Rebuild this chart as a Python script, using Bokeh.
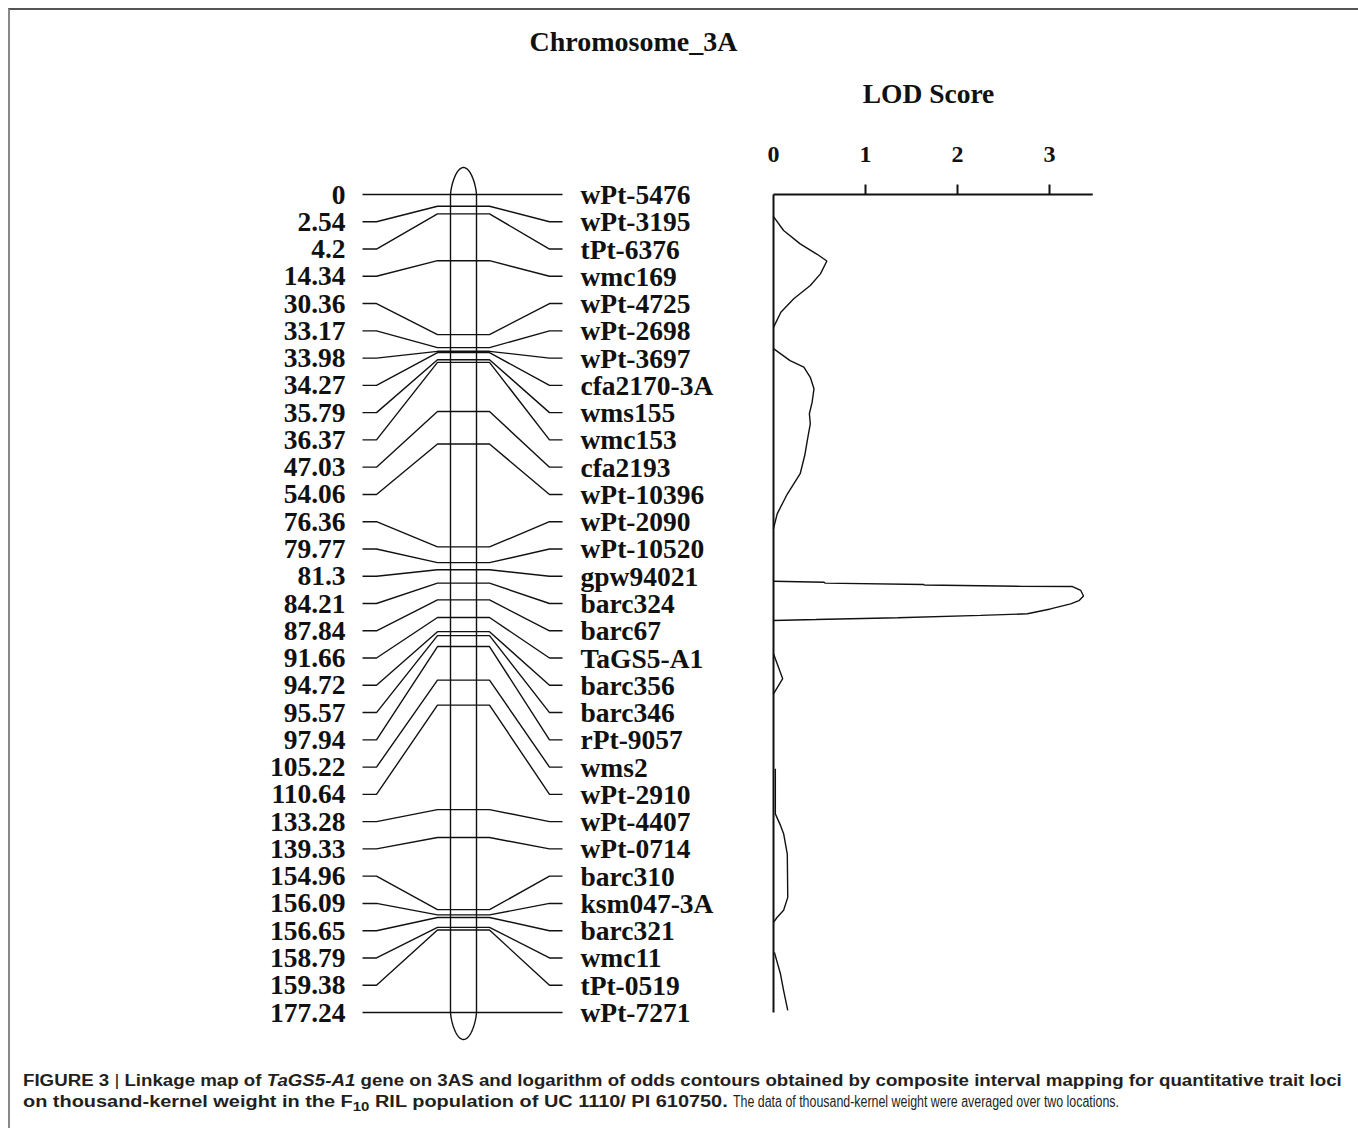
import math
from bokeh.plotting import figure
from bokeh.models import Range1d, Div
from bokeh.layouts import column
from bokeh.core.properties import value
from bokeh.embed import file_html
from bokeh.resources import INLINE

# ---------------- data ----------------
chrom_title = "Chromosome_3A"
lod_title = "LOD Score"

marker_pos = [0, 2.54, 4.2, 14.34, 30.36, 33.17, 33.98, 34.27, 35.79, 36.37,
              47.03, 54.06, 76.36, 79.77, 81.3, 84.21, 87.84, 91.66, 94.72, 95.57,
              97.94, 105.22, 110.64, 133.28, 139.33, 154.96, 156.09, 156.65, 158.79,
              159.38, 177.24]
pos_labels = ["0", "2.54", "4.2", "14.34", "30.36", "33.17", "33.98", "34.27", "35.79",
              "36.37", "47.03", "54.06", "76.36", "79.77", "81.3", "84.21", "87.84",
              "91.66", "94.72", "95.57", "97.94", "105.22", "110.64", "133.28", "139.33",
              "154.96", "156.09", "156.65", "158.79", "159.38", "177.24"]
marker_names = ["wPt-5476", "wPt-3195", "tPt-6376", "wmc169", "wPt-4725", "wPt-2698",
                "wPt-3697", "cfa2170-3A", "wms155", "wmc153", "cfa2193", "wPt-10396",
                "wPt-2090", "wPt-10520", "gpw94021", "barc324", "barc67", "TaGS5-A1",
                "barc356", "barc346", "rPt-9057", "wms2", "wPt-2910", "wPt-4407",
                "wPt-0714", "barc310", "ksm047-3A", "barc321", "wmc11", "tPt-0519",
                "wPt-7271"]

lod_ticks = [0, 1, 2, 3]
lod_axis_max = 3.47

# LOD profile, segments (position in cM, LOD)
lod_cm_1 = [4.8, 7.8, 10.7, 12.9, 14.4, 17.2, 19.7, 22.6, 25.5, 28.8]
lod_val_1 = [0.0, 0.11, 0.29, 0.47, 0.58, 0.51, 0.40, 0.22, 0.08, 0.0]
lod_cm_2 = [33.4, 36.0, 37.4, 39.6, 42.1, 45.0, 47.5, 49.7, 53.0, 56.5, 60.5, 64.9, 69.2, 72.4]
lod_val_2 = [0.0, 0.18, 0.33, 0.40, 0.44, 0.42, 0.39, 0.40, 0.37, 0.34, 0.29, 0.15, 0.04, 0.0]
lod_cm_3 = [83.8, 84.0, 84.2, 84.5, 84.6, 84.9, 84.95, 85.8, 87.0, 88.0, 88.7, 89.8,
            90.85, 91.2, 91.7, 92.1, 92.3]
lod_val_3 = [0.0, 0.55, 0.56, 1.63, 1.64, 2.70, 3.25, 3.34, 3.37, 3.32, 3.23, 3.01,
             2.76, 2.25, 1.35, 0.46, 0.0]
lod_cm_4 = [99.5, 104.9, 108.2]
lod_val_4 = [0.0, 0.10, 0.0]
lod_cm_5 = [124.4, 134.2, 136.7, 138.5, 142.9, 152.3, 155.1, 156.6, 157.7]
lod_val_5 = [0.02, 0.02, 0.076, 0.11, 0.15, 0.155, 0.11, 0.04, 0.0]
lod_cm_6 = [164.2, 168.9, 172.5, 176.8]
lod_val_6 = [0.01, 0.076, 0.11, 0.155]

lod_segments = [(lod_cm_1, lod_val_1), (lod_cm_2, lod_val_2), (lod_cm_3, lod_val_3),
                (lod_cm_4, lod_val_4), (lod_cm_5, lod_val_5), (lod_cm_6, lod_val_6)]

# ---------------- layout (page pixels) ----------------
FIG_LEFT, FIG_TOP = 10, 10
W, H = 1343, 1050
MAP_TOP_PX, MAP_BOT_PX = 194, 1012
total = marker_pos[-1]
S = (MAP_BOT_PX - MAP_TOP_PX) / total


def cm(py):
    return (py - MAP_TOP_PX) / S


LOD0_PX, LOD_UNIT_PX = 773, 92


def lod(px):
    return (px - LOD0_PX) / LOD_UNIT_PX


SERIF = value("Liberation Serif")
INK = "#111111"
LABEL_SIZE = "27.5px"

p = figure(width=W, height=H,
           x_range=Range1d(FIG_LEFT, FIG_LEFT + W),
           y_range=Range1d(cm(FIG_TOP + H), cm(FIG_TOP)),
           x_axis_location=None, y_axis_location=None,
           toolbar_location=None, output_backend="svg",
           min_border=0, outline_line_color=None)
p.grid.visible = False
p.extra_x_ranges = {"lod": Range1d(lod(FIG_LEFT), lod(FIG_LEFT + W))}

n = len(marker_pos)
label_y = [i * total / (n - 1) for i in range(n)]

# connectors
XL0, XL1, XC0, XC1, XR0, XR1 = 362, 376, 437, 489, 549, 562
xs = [[XL0, XL1, XC0, XC1, XR0, XR1] for _ in range(n)]
ys = [[ly, ly, y, y, ly, ly] for ly, y in zip(label_y, marker_pos)]
p.multi_line(xs=xs, ys=ys, line_color=INK, line_width=1.4)

# chromosome body
CH_L, CH_R = 450, 476
p.segment(x0=[CH_L, CH_R], y0=[0, 0], x1=[CH_L, CH_R], y1=[total, total],
          line_color=INK, line_width=1.4)
TIP_PX = 27
cx, a = (CH_L + CH_R) / 2, (CH_R - CH_L) / 2
us = [-1 + 2 * k / 60 for k in range(61)]
tip_x = [cx + a * u for u in us]
tip_h = [TIP_PX * max(0.0, 1 - u * u) ** 0.7 for u in us]
top_y = [cm(MAP_TOP_PX - h) for h in tip_h]
bot_y = [cm(MAP_BOT_PX + h) for h in tip_h]
p.line(tip_x, top_y, line_color=INK, line_width=1.4)
p.line(tip_x, bot_y, line_color=INK, line_width=1.4)

# labels
p.text(x=[345] * n, y=label_y, text=pos_labels, text_font=SERIF, text_font_style="bold",
       text_font_size=LABEL_SIZE, text_align="right", text_baseline="middle", text_color=INK)
p.text(x=[580] * n, y=label_y, text=marker_names, text_font=SERIF, text_font_style="bold",
       text_font_size=LABEL_SIZE, text_align="left", text_baseline="middle", text_color=INK)

# titles
p.text(x=[633], y=[cm(41)], text=[chrom_title], text_font=SERIF, text_font_style="bold",
       text_font_size="28px", text_align="center", text_baseline="middle", text_color=INK)
p.text(x=[928], y=[cm(93)], text=[lod_title], text_font=SERIF, text_font_style="bold",
       text_font_size="27.5px", text_align="center", text_baseline="middle", text_color=INK)

# LOD axis
p.segment(x0=[0], y0=[0], x1=[lod_axis_max], y1=[0], x_range_name="lod",
          line_color=INK, line_width=2)
p.segment(x0=[0], y0=[0], x1=[0], y1=[total], x_range_name="lod",
          line_color=INK, line_width=2)
tk = [t for t in lod_ticks if t > 0]
p.segment(x0=tk, y0=[0] * len(tk), x1=tk, y1=[cm(MAP_TOP_PX - 10)] * len(tk),
          x_range_name="lod", line_color=INK, line_width=2)
p.text(x=lod_ticks, y=[cm(154)] * len(lod_ticks), text=[str(t) for t in lod_ticks],
       x_range_name="lod", text_font=SERIF, text_font_style="bold", text_font_size="24px",
       text_align="center", text_baseline="middle", text_color=INK)

# LOD curve
for seg_cm, seg_val in lod_segments:
    p.line(x=seg_val, y=seg_cm, x_range_name="lod", line_color=INK, line_width=1.4)

caption_html = (
    '<div style="position:relative;height:60px;font-family:\'Liberation Sans\',Arial,sans-serif;'
    'font-size:16px;line-height:18px;color:#231f20">'
    '<div style="position:absolute;left:8px;top:7px;white-space:nowrap;font-weight:bold;'
    'transform:scaleX(1.168);transform-origin:0 0">'
    'FIGURE 3 <span style="font-weight:normal">|</span> Linkage map of <i>TaGS5-A1</i> gene on 3AS '
    'and logarithm of odds contours obtained by composite interval mapping for quantitative '
    'trait loci</div>'
    '<div style="position:absolute;left:8px;top:28px;white-space:nowrap;font-weight:bold;'
    'transform:scaleX(1.245);transform-origin:0 0">'
    'on thousand-kernel weight in the F<sub style="font-size:12px;line-height:0">10</sub> RIL '
    'population of UC 1110/ PI 610750.</div>'
    '<div style="position:absolute;left:718px;top:28px;white-space:nowrap;'
    'transform:scaleX(0.775);transform-origin:0 0">'
    'The data of thousand-kernel weight were averaged over two locations.</div>'
    '</div>'
)
cap = Div(text=caption_html, width=W, height=60)

layout = column(p, cap, styles={"margin": "8px 0 0 8px",
                                "border-top": "2px solid #555",
                                "border-left": "2px solid #888",
                                "border-right": "2px solid #888"})

open("out.html", "w").write(file_html(layout, INLINE))
